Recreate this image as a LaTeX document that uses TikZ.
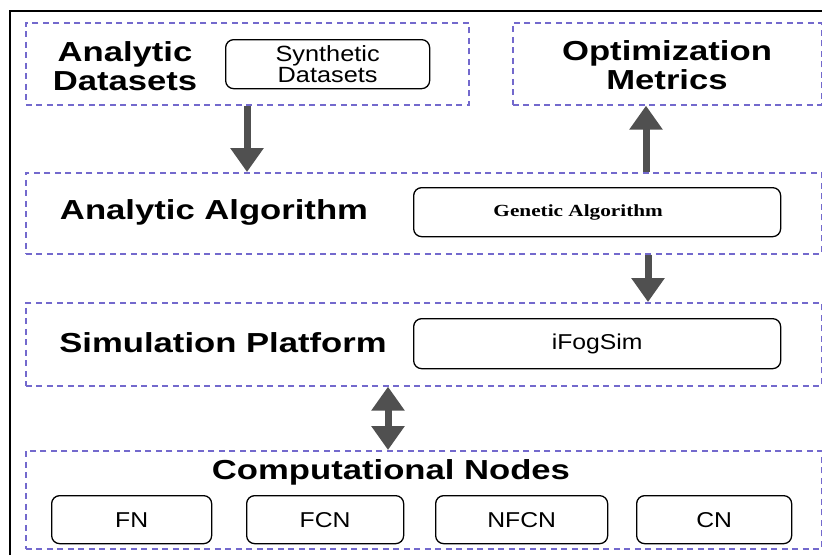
\documentclass[tikz,border=0pt]{standalone}
\usepackage{fontspec}
\setmainfont{Liberation Sans}
\newfontfamily\lblfont[FakeStretch=1.26]{Liberation Sans}
\newfontfamily\inrfont[FakeStretch=1.15]{Liberation Sans}
\newfontfamily\serffont[FakeStretch=1.25]{Liberation Serif}
\usetikzlibrary{arrows.meta}
\definecolor{dashc}{RGB}{115,105,205}
\definecolor{arrc}{RGB}{80,80,80}
\begin{document}
\begin{tikzpicture}[x=1pt,y=-1pt,
  layer/.style={draw=dashc, line width=1.7pt, dash pattern=on 6pt off 4.5pt, inner sep=0pt, anchor=north west},
  unit/.style={draw=black, line width=1.3pt, rounded corners=8pt, inner sep=0pt, anchor=north west, align=center, font=\inrfont\fontsize{21.5}{21}\selectfont},
  lbl/.style={font=\lblfont\bfseries\fontsize{27.5}{29}\selectfont, align=center, inner sep=0pt},
  flow/.style={draw=arrc, line width=7pt, -{Triangle[width=32pt,length=24pt]}},
  both/.style={draw=arrc, line width=7pt, {Triangle[width=32pt,length=24pt]}-{Triangle[width=32pt,length=24pt]}}
]
\useasboundingbox (0,0) rectangle (822,555);
\fill[white] (0,0) rectangle (822,555);
% outer frame
\draw[line width=2pt] (10,555) -- (10,11) -- (822,11);

% layers
\node[layer, minimum width=443pt, minimum height=82pt] (box1) at (25,22) {};
\node[layer, minimum width=309pt, minimum height=82pt] (box2) at (512,22) {};
\node[layer, minimum width=796pt, minimum height=81pt] (box3) at (25,172) {};
\node[layer, minimum width=796pt, minimum height=83pt] (box4) at (25,302) {};
\node[layer, minimum width=796pt, minimum height=98pt] (box5) at (25,450) {};

% labels
\node[lbl] (t1) at (125,66) {Analytic\\Datasets};
\node[lbl] (t2) at (667,65) {Optimization\\Metrics};
\node[lbl, anchor=base] (t3) at (214,219) {Analytic Algorithm};
\node[lbl, anchor=base] (t4) at (223,352) {Simulation Platform};
\node[lbl, anchor=base] (t5) at (391,479) {Computational Nodes};

% inner units
\node[unit, minimum width=204pt, minimum height=49pt, font=\inrfont\fontsize{22}{21}\selectfont] (syn) at (225,39) {Synthetic\\Datasets};
\node[unit, minimum width=367pt, minimum height=49pt, font=\serffont\bfseries\fontsize{17}{18}\selectfont] (gen) at (413,187) {\hspace*{-38pt}Genetic Algorithm};
\node[unit, minimum width=367pt, minimum height=50pt] (ifog) at (413,318) {iFogSim};
\node[unit, minimum width=160pt, minimum height=48pt] (fn) at (51,495) {FN};
\node[unit, minimum width=157pt, minimum height=48pt] (fcn) at (246,495) {FCN};
\node[unit, minimum width=172pt, minimum height=48pt] (nfcn) at (435,495) {NFCN};
\node[unit, minimum width=155pt, minimum height=48pt] (cn) at (636,495) {CN};

% connectors
\coordinate (c1) at (247,0);
\coordinate (c2) at (646,0);
\coordinate (c3) at (648,0);
\coordinate (c4) at (388,0);
\draw[flow] (box1.south -| c1) -- (box3.north -| c1);
\draw[flow] (box3.north -| c2) -- (box2.south -| c2);
\draw[flow] (box3.south -| c3) -- (box4.north -| c3);
\draw[both] (box4.south -| c4) -- (box5.north -| c4);
\end{tikzpicture}
\end{document}
